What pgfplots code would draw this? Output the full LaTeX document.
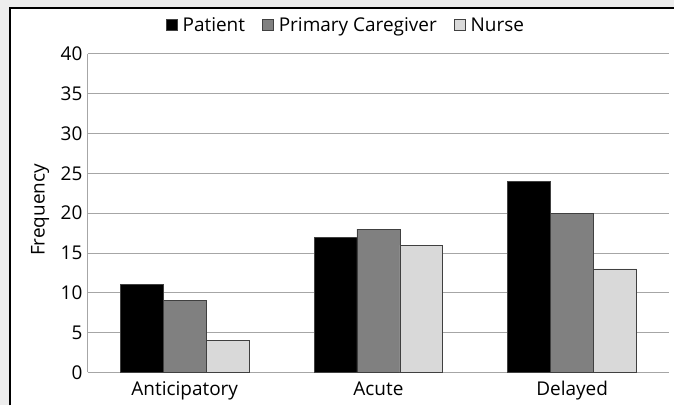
\documentclass[border=0pt]{standalone}
\usepackage{pgfplots}
\pgfplotsset{compat=1.18}
\usepackage{fontspec}
\setmainfont{Open Sans}
\definecolor{gridgray}{HTML}{A6A6A6}
\definecolor{barA}{HTML}{000000}
\definecolor{barB}{HTML}{808080}
\definecolor{barC}{HTML}{D9D9D9}
\definecolor{edge}{HTML}{404040}
\begin{document}
\begin{tikzpicture}[x=1bp,y=1bp]
\fill[black!7] (0,0) rectangle (675,406);
\fill[white] (9,0) rectangle (675,398);
\draw[black, line width=2bp] (10,0) -- (10,398) -- (675,398);
\begin{axis}[
  at={(88bp,33bp)}, anchor=south west,
  scale only axis, width=582bp, height=319bp,
  ymin=0, ymax=40, ytick={0,5,...,40},
  xmin=-0.5, xmax=2.5, xtick={0,1,2},
  xticklabels={Anticipatory,Acute,Delayed},
  ybar=0pt, bar width=43bp,
  axis x line*=bottom, axis y line*=left,
  ymajorgrids, grid style={draw=gridgray, line width=1bp},
  axis line style={draw=gridgray, line width=1bp},
  major tick length=0pt, tick style={draw=none},
  tick label style={font=\fontsize{19bp}{22bp}\selectfont},
  yticklabel style={xshift=-2bp},
  xticklabel style={yshift=-5.5bp},
  /pgf/number format/assume math mode=true,
  ylabel={Frequency},
  label style={font=\fontsize{19bp}{22bp}\selectfont},
  ylabel style={at={(axis description cs:-0.082,0.51)}, anchor=center},
  legend style={at={(0.444,1.09)}, anchor=center, draw=none, fill=none,
    font=\fontsize{19bp}{22bp}\selectfont, legend columns=-1,
    /tikz/every even column/.append style={column sep=15bp}},
  legend image code/.code={\draw[#1] (0bp,-5.5bp) rectangle (11bp,5.5bp); \path (14bp,0bp);},
]
\addplot[fill=barA, draw=edge, line width=0.8bp] coordinates {(0,11) (1,17) (2,24)};
\addplot[fill=barB, draw=edge, line width=0.8bp] coordinates {(0,9) (1,18) (2,20)};
\addplot[fill=barC, draw=edge, line width=0.8bp] coordinates {(0,4) (1,16) (2,13)};
\legend{Patient, Primary Caregiver, Nurse}
\end{axis}
\end{tikzpicture}
\end{document}
